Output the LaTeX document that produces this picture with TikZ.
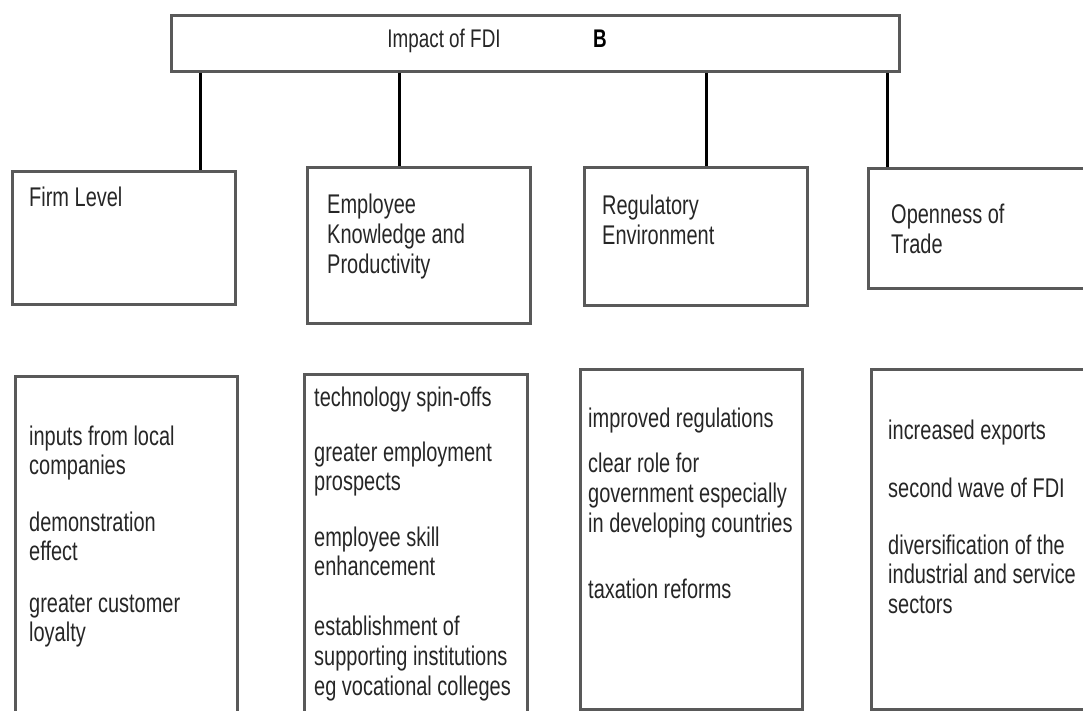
\documentclass[tikz,border=0pt]{standalone}
\usepackage{fontspec}
\setmainfont[FakeStretch=0.74]{Liberation Sans}
\begin{document}
\begin{tikzpicture}[x=1pt,y=-1pt,
  frame/.style={draw=black!65, line width=3pt, inner sep=0pt, anchor=north west},
  link/.style={draw=black, line width=3pt},
  % multi-line labels are placed by the baseline of their last line
  label/.style={inner sep=0pt, anchor=base west, align=left, text=black!85,
    font=\fontsize{27}{29.5}\selectfont},
  wide/.style={label, font=\fontsize{27}{30}\selectfont},
  head/.style={label, font=\fontsize{25.5}{28}\selectfont}]
\useasboundingbox (0,0) rectangle (1083,711);
\clip (0,0) rectangle (1083,711);

% root box
\node[frame, minimum width=728pt, minimum height=56pt] (top) at (170,14) {};
\node[head, anchor=base] (toptext) at (444,48) {Impact of FDI};
\node[head, font=\fontsize{25.5}{28}\selectfont\bfseries, text=black] (mark) at (593,48) {B};

% second level
\node[frame, minimum width=223pt, minimum height=133pt] (firm) at (11,170) {};
\node[frame, minimum width=223pt, minimum height=156pt] (empl) at (306,166) {};
\node[frame, minimum width=223pt, minimum height=138pt] (regu) at (583,166) {};
\node[frame, minimum width=240pt, minimum height=120pt] (open) at (867,167) {};

\node[label] (firmtext) at (29,207) {Firm Level};
\node[wide] (empltext) at (327,273) {Employee\\Knowledge and\\Productivity};
\node[wide] (regutext) at (602,244) {Regulatory\\Environment};
\node[wide] (opentext) at (891,254) {Openness of\\Trade};

% connectors from the root
\coordinate (x1) at (200,0);
\coordinate (x2) at (399,0);
\coordinate (x3) at (706,0);
\coordinate (x4) at (887,0);
\draw[link] (top.south -| x1) -- (firm.north -| x1);
\draw[link] (top.south -| x2) -- (empl.north -| x2);
\draw[link] (top.south -| x3) -- (regu.north -| x3);
\draw[link] (top.south -| x4) -- (open.north -| x4);

% detail boxes
\node[frame, minimum width=222pt, minimum height=360pt] (firmlist) at (14,375) {};
\node[frame, minimum width=223pt, minimum height=360pt] (empllist) at (303,373) {};
\node[frame, minimum width=222pt, minimum height=340pt] (regulist) at (579,368) {};
\node[frame, minimum width=240pt, minimum height=340pt] (openlist) at (870,368) {};

\node[label] (f1) at (29,474.5) {inputs from local\\companies};
\node[label] (f2) at (29,560.5) {demonstration\\effect};
\node[label] (f3) at (29,641.5) {greater customer\\loyalty};

\node[label] (e1) at (314,406) {technology spin-offs};
\node[label] (e2) at (314,490.5) {greater employment\\prospects};
\node[label] (e3) at (314,575.5) {employee skill\\enhancement};
\node[wide] (e4) at (314,695) {establishment of\\supporting institutions\\eg vocational colleges};

\node[label] (r1) at (588,427) {improved regulations};
\node[wide] (r2) at (588,532) {clear role for\\government especially\\in developing countries};
\node[label] (r3) at (588,598) {taxation reforms};

\node[label] (o1) at (888,439) {increased exports};
\node[label] (o2) at (888,497) {second wave of FDI};
\node[label] (o3) at (888,613) {diversification of the\\industrial and service\\sectors};
\end{tikzpicture}
\end{document}
